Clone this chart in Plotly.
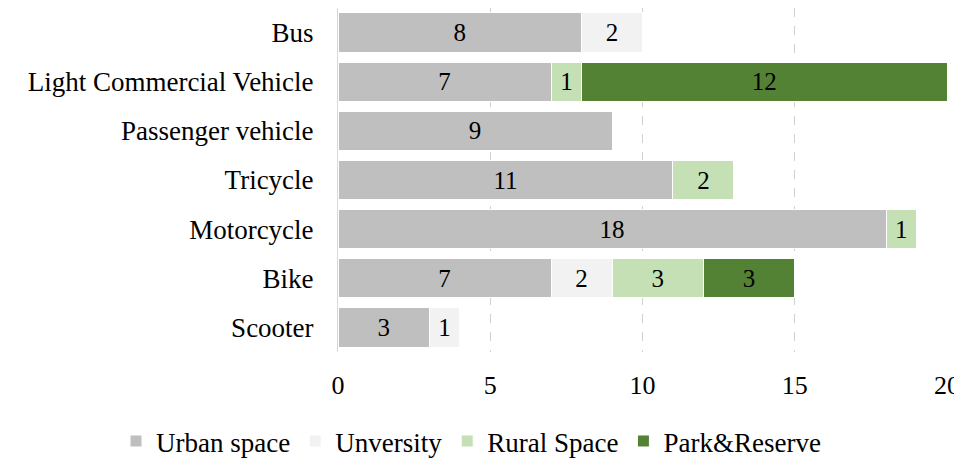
import plotly.graph_objects as go

categories = ["Bus", "Light Commercial Vehicle", "Passenger vehicle", "Tricycle",
              "Motorcycle", "Bike", "Scooter"]
urban = [8, 7, 9, 11, 18, 7, 3]
university = [2, None, None, None, None, 2, 1]
rural = [None, 1, None, 2, 1, 3, None]
park = [None, 12, None, None, None, 3, None]

series = [
    ("Urban space", urban, "#bfbfbf"),
    ("Unversity", university, "#f2f2f2"),
    ("Rural Space", rural, "#c5e0b4"),
    ("Park&Reserve", park, "#548235"),
]

font = "Liberation Serif, Times New Roman, serif"
fig = go.Figure()
for name, vals, color in series:
    fig.add_trace(go.Bar(
        name=name, y=categories, x=vals, orientation="h",
        marker=dict(color=color, line=dict(color="white", width=1)),
        text=[("" if v is None else str(v)) for v in vals],
        textposition="inside", insidetextanchor="middle",
        textfont=dict(family=font, size=25, color="#000000"),
        hoverinfo="skip",
    ))

fig.update_layout(
    barmode="stack", bargap=0.2,
    width=954, height=458,
    margin=dict(l=330, r=15, t=0, b=109),
    paper_bgcolor="white", plot_bgcolor="white",
    font=dict(family=font, size=26, color="#000000"),
    uniformtext=dict(mode=False),
    legend=dict(orientation="h", x=-0.3645, xanchor="left",
                y=-0.26, yanchor="middle",
                font=dict(family=font, size=27, color="#000000"),
                itemwidth=30, traceorder="normal", bgcolor="rgba(0,0,0,0)"),
    showlegend=True,
)
fig.update_xaxes(range=[0, 20], dtick=5, tick0=0, showgrid=True,
                 gridcolor="#d0d0d0", griddash="dash", gridwidth=1,
                 zeroline=False, showline=False, automargin=False,
                 ticks="outside", ticklen=10, tickcolor="rgba(0,0,0,0)",
                 tickfont=dict(family=font, size=26, color="#000000"))
fig.update_yaxes(range=[6.5, -0.5], showline=True, linecolor="#d9d9d9", linewidth=1,
                 ticks="outside", ticklen=18, tickcolor="rgba(0,0,0,0)", automargin=False,
                 tickfont=dict(family=font, size=27, color="#000000"), showgrid=False)

fig.write_html("out.html")
